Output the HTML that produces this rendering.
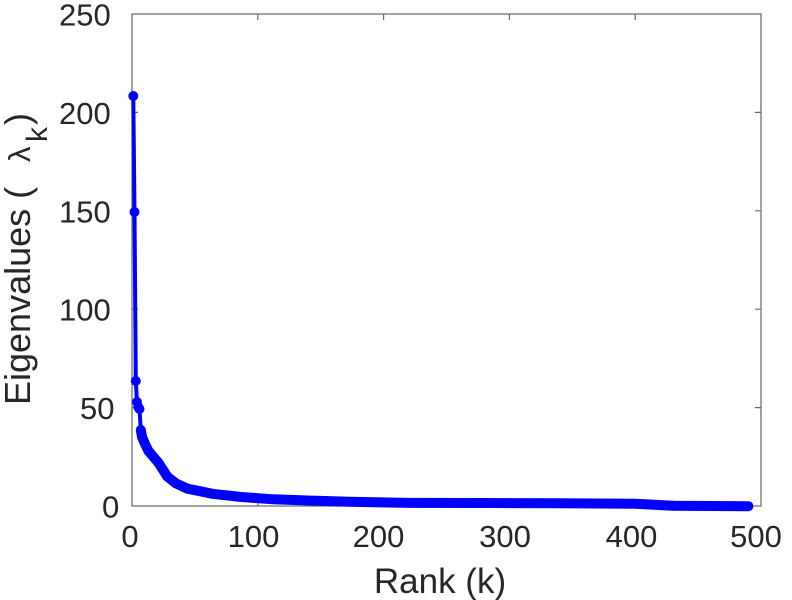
<!DOCTYPE html>
<html>
<head>
<meta charset="utf-8">
<style>
  html, body { margin: 0; padding: 0; background: #ffffff; }
  svg { display: block; }
  text { font-family: "Liberation Sans", "DejaVu Sans", sans-serif; fill: #262626; }
</style>
</head>
<body>
<svg width="792" height="600" viewBox="0 0 792 600" xmlns="http://www.w3.org/2000/svg">
  <rect x="0" y="0" width="792" height="600" fill="#ffffff"/>

  <!-- axes box -->
  <g stroke="#666" stroke-width="1.2" fill="none">
    <rect x="132" y="14" width="629" height="492"/>
    <!-- x ticks bottom -->
    <path d="M257.8 506 v-6 M383.6 506 v-6 M509.4 506 v-6 M635.2 506 v-6"/>
    <!-- x ticks top -->
    <path d="M257.8 14 v6 M383.6 14 v6 M509.4 14 v6 M635.2 14 v6"/>
    <!-- y ticks left -->
    <path d="M132 407.6 h6 M132 309.2 h6 M132 210.8 h6 M132 112.4 h6"/>
    <!-- y ticks right -->
    <path d="M761 407.6 h-6 M761 309.2 h-6 M761 210.8 h-6 M761 112.4 h-6"/>
  </g>

  <!-- data: sparse head -->
  <polyline fill="none" stroke="#0000ff" stroke-width="4" stroke-linejoin="round" stroke-linecap="round"
    points="133.3,96 134.5,212 135.8,381 137.0,402 138.3,407 139.5,409 140.8,430 142.1,437"/>
  <!-- dense tail drawn as thick band (overlapping markers) -->
  <polyline fill="none" stroke="#0000ff" stroke-width="10" stroke-linejoin="round" stroke-linecap="round"
    points="140.8,430.2 142.1,437.1 144.6,443.0 148.4,450.9 153.4,456.8 158.4,462.7 163.5,470.6 167.2,476.5 176.0,483.4 187.4,488.7 199.9,491.2 212.5,493.8 240.2,496.9 272.9,499.3 308.1,500.5 349.6,501.7 408.8,502.9 484.2,503.0 559.7,503.2 635.2,503.8 654.1,504.8 673.0,505.8 748.4,506.2"/>
  <g fill="#0000ff">
    <circle cx="133.3" cy="96" r="5"/>
    <circle cx="134.5" cy="212" r="5"/>
    <circle cx="135.8" cy="381" r="5"/>
    <circle cx="137.0" cy="402" r="5"/>
    <circle cx="138.3" cy="407" r="5"/>
    <circle cx="139.5" cy="409" r="5"/>
    <circle cx="140.8" cy="430" r="5"/>
    <circle cx="142.1" cy="437" r="5"/>
  </g>

  <!-- y tick labels -->
  <g font-size="31">
    <text x="59" y="25.5">250</text>
    <text x="59" y="123.9">200</text>
    <text x="59" y="222.3">150</text>
    <text x="59" y="320.7">100</text>
    <text x="80" y="419.1">50</text>
    <text x="102" y="517.5">0</text>
  </g>

  <!-- x tick labels -->
  <g font-size="31" text-anchor="middle">
    <text x="130" y="547">0</text>
    <text x="253.5" y="547">100</text>
    <text x="378.5" y="547">200</text>
    <text x="505" y="547">300</text>
    <text x="631.5" y="547">400</text>
    <text x="756" y="547">500</text>
  </g>

  <!-- x label -->
  <text x="440" y="593" font-size="35" text-anchor="middle">Rank (k)</text>

  <!-- y label -->
  <g transform="translate(30,405) rotate(-90)">
    <text x="0" y="0" font-size="36">Eigenvalues (</text>
    <text x="243" y="0" font-size="31">λ</text>
    <text x="263" y="17" font-size="30">k</text>
    <text x="280" y="0" font-size="36">)</text>
  </g>
</svg>
</body>
</html>
